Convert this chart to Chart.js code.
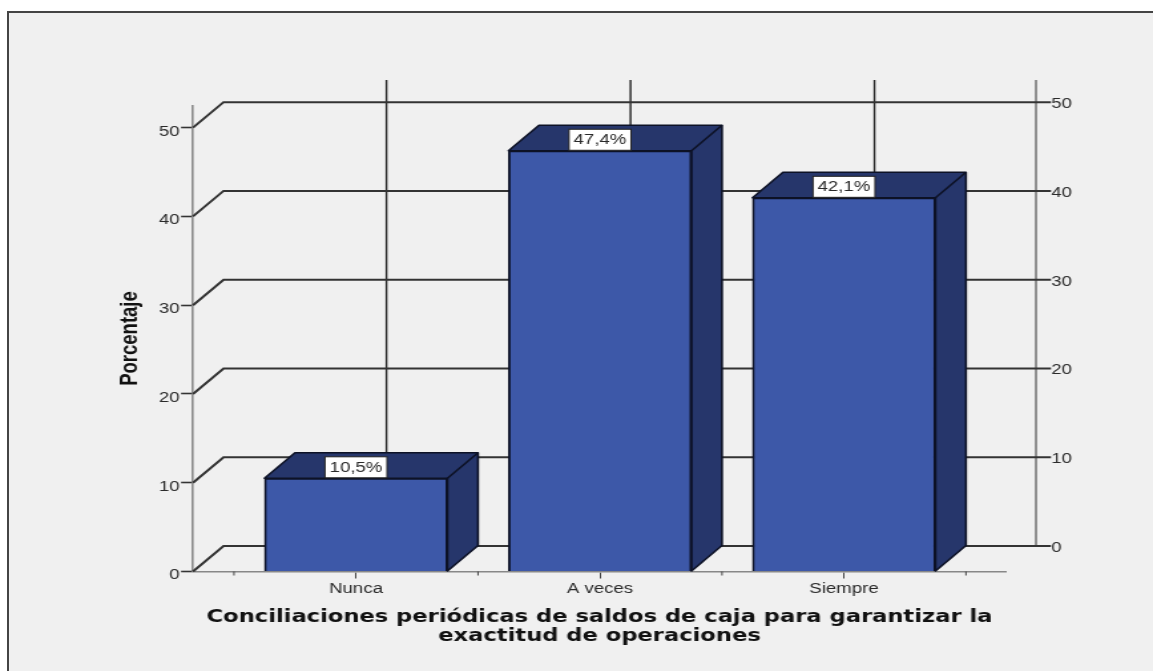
<!DOCTYPE html>
<html lang="es">
<head>
<meta charset="utf-8">
<title>Conciliaciones periódicas</title>
<script src="https://cdn.jsdelivr.net/npm/chart.js@4"></script>
<style>
    html, body { margin: 0; height: 100%; background: #fff; overflow: hidden; }
    #frame {
        position: absolute; left: 7px; top: 11px; right: 0; bottom: 0;
        background: #f0f0f0;
        border-left: 2px solid #444; border-top: 2px solid #444;
    }
    /* the original picture was widened after rendering, so the text is wide too */
    #chart { position: absolute; left: 0; top: 0; transform-origin: 0 0; }
</style>
</head>
<body>
<div id="frame"></div>
<canvas id="chart"></canvas>
<script>
// Data
const categories = ['Nunca', 'A veces', 'Siempre'];
const percentages = [10.5, 47.4, 42.1];
const pointLabels = ['10,5%', '47,4%', '42,1%'];
const gridValues = [0, 10, 20, 30, 40, 50];
const axisTitleY = 'Porcentaje';
const axisTitleX = [
    'Conciliaciones periódicas de saldos de caja para garantizar la',
    'exactitud de operaciones'
];

const STRETCH = 1.33;
const PAGE_W = 1153;
const PAGE_H = 671;
const CANVAS_W = Math.round(PAGE_W / STRETCH);
const sx = PAGE_W / CANVAS_W;
const DEPTH_X = 30.5 / sx;
const DEPTH_Y = 25.5;
const TEXT_COLOR = '#2a2a2a';
const LINE_COLOR = '#333';
const EDGE_COLOR = '#0d1226';

const canvas = document.getElementById('chart');
canvas.width = CANVAS_W;
canvas.height = PAGE_H;
canvas.style.width = CANVAS_W + 'px';
canvas.style.height = PAGE_H + 'px';
canvas.style.transform = `scaleX(${sx})`;

/**
 * Back wall, dividers, right axis and the 3D faces of the bars
 */
const depthPlugin = {
    id: 'depth',
    beforeDatasetsDraw(chart) {
        const { ctx, chartArea } = chart;
        const x = chart.scales.x;
        const y = chart.scales.y;
        const wallRight = chartArea.right + (1036 - 1006) / sx;
        const wallTop = chartArea.top - DEPTH_Y;
        const wallBottom = y.getPixelForValue(0) - DEPTH_Y;

        ctx.save();
        ctx.lineCap = 'butt';

        // Right edge of the wall
        ctx.strokeStyle = '#666';
        ctx.lineWidth = 1.4;
        line(ctx, wallRight, wallTop, wallRight, wallBottom);

        // Dividers behind the bars
        ctx.strokeStyle = '#222';
        categories.forEach((c, i) => {
            const px = x.getPixelForValue(i) + DEPTH_X;
            line(ctx, px, wallTop, px, wallBottom);
        });

        // Grid lines run up the side and along the wall
        ctx.strokeStyle = LINE_COLOR;
        ctx.lineWidth = 2;
        ctx.fillStyle = TEXT_COLOR;
        ctx.font = '14px "Liberation Sans"';
        ctx.textAlign = 'left';
        ctx.textBaseline = 'middle';
        gridValues.forEach(v => {
            const py = y.getPixelForValue(v);
            ctx.beginPath();
            ctx.moveTo(chartArea.left, py);
            ctx.lineTo(chartArea.left + DEPTH_X, py - DEPTH_Y);
            ctx.lineTo(wallRight + 15 / sx, py - DEPTH_Y);
            ctx.stroke();
            ctx.fillText(String(v), wallRight + 11.5, py - DEPTH_Y + 2);
        });

        // Short ticks between the categories
        ctx.strokeStyle = '#444';
        ctx.lineWidth = 1;
        [-0.5, 0.5, 1.5, 2.5].forEach(v => {
            const px = x.getPixelForValue(v);
            line(ctx, px, chartArea.bottom, px, chartArea.bottom + 4);
        });

        // Top and side of each bar
        ctx.fillStyle = '#26366b';
        ctx.strokeStyle = EDGE_COLOR;
        ctx.lineWidth = 1.6;
        ctx.lineJoin = 'round';
        chart.getDatasetMeta(0).data.forEach(bar => {
            const half = bar.width / 2;
            const l = bar.x - half;
            const r = bar.x + half;
            ctx.beginPath();
            ctx.moveTo(l, bar.y);
            ctx.lineTo(l + DEPTH_X, bar.y - DEPTH_Y);
            ctx.lineTo(r + DEPTH_X, bar.y - DEPTH_Y);
            ctx.lineTo(r + DEPTH_X, bar.base - DEPTH_Y);
            ctx.lineTo(r, bar.base);
            ctx.lineTo(r, bar.y);
            ctx.closePath();
            ctx.fill();
            ctx.stroke();
            line(ctx, r, bar.y, r + DEPTH_X, bar.y - DEPTH_Y);
        });
        ctx.restore();
    },
    afterDatasetsDraw(chart) {
        const { ctx } = chart;
        const boxW = 62 / sx;
        const boxH = 21;

        ctx.save();
        ctx.font = '14px "Liberation Sans"';
        ctx.textAlign = 'center';
        ctx.textBaseline = 'middle';
        chart.getDatasetMeta(0).data.forEach((bar, i) => {
            const top = bar.y - boxH - 0.5;
            ctx.fillStyle = '#fff';
            ctx.fillRect(bar.x - boxW / 2, top, boxW, boxH);
            ctx.strokeStyle = '#222';
            ctx.lineWidth = 1;
            ctx.strokeRect(bar.x - boxW / 2, top, boxW, boxH);
            ctx.fillStyle = TEXT_COLOR;
            ctx.fillText(pointLabels[i], bar.x, top + boxH / 2 + 0.5);
        });
        ctx.restore();
    }
};

function line(ctx, x1, y1, x2, y2) {
    ctx.beginPath();
    ctx.moveTo(x1, y1);
    ctx.lineTo(x2, y2);
    ctx.stroke();
}

new Chart(canvas, {
    type: 'bar',
    data: {
        datasets: [{
            data: percentages.map((p, i) => ({ x: i, y: p })),
            backgroundColor: '#3d58a8',
            borderColor: EDGE_COLOR,
            borderWidth: 1.8,
            barThickness: 183 / sx
        }]
    },
    options: {
        responsive: false,
        animation: false,
        layout: {
            padding: { top: 105.5, right: CANVAS_W - 1006 / sx, bottom: 0, left: 0 }
        },
        plugins: {
            legend: { display: false },
            tooltip: { enabled: false }
        },
        scales: {
            x: {
                type: 'linear',
                offset: false,
                min: -0.668,
                max: 2.664,
                afterBuildTicks: scale => {
                    scale.ticks = categories.map((c, i) => ({ value: i }));
                },
                afterFit: scale => { scale.height = 99.5; },
                ticks: {
                    color: TEXT_COLOR,
                    font: { family: '"Liberation Sans"', size: 14 },
                    padding: 2,
                    maxRotation: 0,
                    callback: value => categories[value]
                },
                grid: { offset: false, drawOnChartArea: false, tickLength: 7, tickColor: '#444', tickWidth: 1 },
                border: { color: '#888', width: 1.6 },
                title: {
                    display: true,
                    text: axisTitleX,
                    color: '#111',
                    font: { family: '"DejaVu Sans"', size: 17, weight: 'bold', lineHeight: 1.12 },
                    padding: { top: 0, bottom: 25 }
                }
            },
            y: {
                min: 0,
                max: 52.5,
                afterFit: scale => { scale.width = 193 / sx; },
                ticks: {
                    stepSize: 10,
                    includeBounds: false,
                    color: TEXT_COLOR,
                    // blank first line: drops the number a little below its tick
                    font: { family: '"Liberation Sans"', size: 14, lineHeight: '8px' },
                    padding: 1,
                    callback: value => ['', String(value)]
                },
                grid: { drawOnChartArea: false, tickLength: 9, tickColor: LINE_COLOR, tickWidth: 1.6 },
                border: { color: '#888', width: 1.6 },
                title: {
                    display: true,
                    text: axisTitleY,
                    color: '#111',
                    font: { family: '"Liberation Sans"', size: 18.5, weight: 'bold' },
                    padding: { top: 87, bottom: 0 }
                }
            }
        }
    },
    plugins: [depthPlugin]
});
</script>
</body>
</html>
